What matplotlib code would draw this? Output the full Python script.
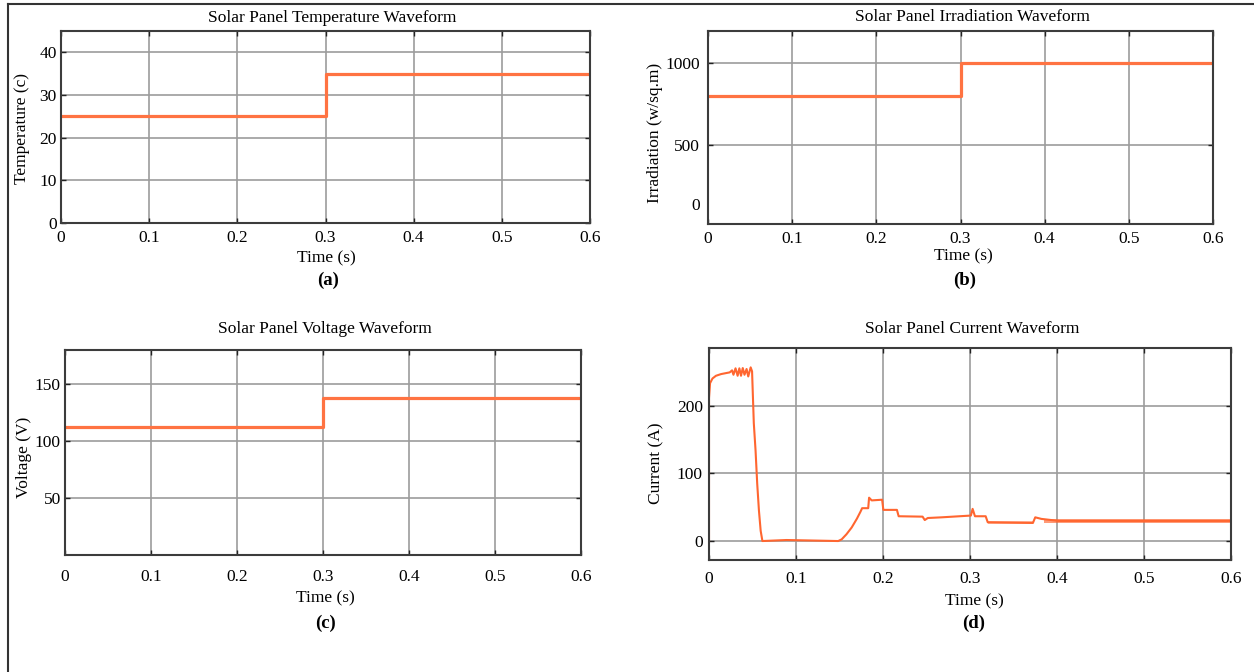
import matplotlib
matplotlib.use("Agg")
import matplotlib.pyplot as plt
from matplotlib.lines import Line2D

# ---------------- data ----------------
time_ticks = [0, 0.1, 0.2, 0.3, 0.4, 0.5, 0.6]
time_tick_labels = ["0", "0.1", "0.2", "0.3", "0.4", "0.5", "0.6"]

t_step = [0.0, 0.3, 0.6]
temperature = [25, 35, 35]
irradiation = [800, 1000, 1000]
voltage = [112, 138, 138]

temp_ticks = [0, 10, 20, 30, 40]
irr_ticks = [500, 1000]
irr_zero_label_pos = 140          # the "0" label sits here in the reference, with no grid line
volt_ticks = [50, 100, 150]
volt_tick_labels = ["50", "100", "150"]
curr_ticks = [0, 100, 200]

t_current = [0.0, 0.0, 0.0012, 0.004, 0.008, 0.0139, 0.0198, 0.0238, 0.0265, 0.0281,
             0.0305, 0.0329, 0.0349, 0.0368, 0.0388, 0.0408, 0.0432, 0.0451, 0.0479,
             0.0495, 0.0515, 0.0535, 0.0554, 0.0574, 0.0594, 0.0614, 0.089, 0.109,
             0.1485, 0.1525, 0.158, 0.164, 0.170, 0.174, 0.176, 0.183, 0.184, 0.187,
             0.199, 0.2004, 0.216, 0.218, 0.2455, 0.248, 0.2515, 0.2673, 0.301, 0.303,
             0.3057, 0.318, 0.3204, 0.3723, 0.375, 0.382, 0.402, 0.6]
current = [0, 211, 233, 240, 244, 246.5, 248, 249, 252, 245.5,
           255, 244, 255, 244, 255.4, 245.5, 254, 243, 256.4,
           250.5, 174, 134, 85, 45, 15, 0, 1.5, 1,
           0, 2.5, 10, 20, 33, 43, 48.5, 48.5, 64, 60,
           61, 46, 46, 36.6, 36, 31, 34, 35, 37.6, 47.5,
           36.6, 36.6, 27.7, 26.7, 35, 32.7, 29.7, 29.7]
# ripple envelopes (thick noisy bands)
ripple_t = [0.321, 0.372]
ripple_lo = [25.0, 25.0]
ripple_hi = [29.5, 29.5]
ripple2_t = [0.385, 0.6]
ripple2_lo = [27.0, 27.0]
ripple2_hi = [33.0, 33.0]

# ---------------- style ----------------
W, H = 1254, 672
plt.rcParams["font.family"] = ["Liberation Serif", "DejaVu Serif"]
STEP_COL = "#FF7342"
CURR_COL = "#FF6630"
GRID_COL = "#9c9c9c"
FRAME_COL = "#3c3c3c"
FS = 12.5

fig = plt.figure(figsize=(W / 100, H / 100), dpi=100)


def rect(l, r, t, b):
    return [l / W, 1 - b / H, (r - l) / W, (b - t) / H]


def ftext(x, y, s, **kw):
    fig.text(x / W, 1 - y / H, s, ha="center", va="center", **kw)


def style(ax, xpad, ypad):
    ax.set_xlim(0, 0.6)
    ax.set_xticks(time_ticks)
    ax.set_xticklabels(time_tick_labels)
    ax.grid(True, color=GRID_COL, linewidth=1.2)
    ax.set_axisbelow(True)
    for s in ax.spines.values():
        s.set_color(FRAME_COL)
        s.set_linewidth(1.5)
    ax.tick_params(direction="in", length=3.5, width=1.0, color="#222222",
                   top=True, right=True, labelsize=FS)
    ax.tick_params(axis="x", pad=xpad)
    ax.tick_params(axis="y", pad=ypad)


# (a) temperature
axa = fig.add_axes(rect(61, 590, 31, 223))
axa.plot(t_step, temperature, drawstyle="steps-post", color=STEP_COL, lw=2.3)
axa.set_ylim(0, 45)
axa.set_yticks(temp_ticks)
style(axa, 5, 3)
ftext(332, 18, "Solar Panel Temperature Waveform", fontsize=FS)
ftext(22, 128, "Temperature (c)", fontsize=FS, rotation=90)
ftext(326, 258, "Time (s)", fontsize=FS)
ftext(328, 280, "(a)", fontsize=FS + 1, fontweight="bold")

# (b) irradiation
axb = fig.add_axes(rect(708, 1213, 31, 224))
axb.plot(t_step, irradiation, drawstyle="steps-post", color=STEP_COL, lw=2.3)
axb.set_ylim(15, 1195)
axb.set_yticks([irr_zero_label_pos] + irr_ticks)
axb.set_yticklabels(["0"] + [str(v) for v in irr_ticks])
style(axb, 5, 6)
t0 = axb.yaxis.get_major_ticks()[0]
t0.gridline.set_visible(False)
t0.tick1line.set_visible(False)
t0.tick2line.set_visible(False)
ftext(972, 17, "Solar Panel Irradiation Waveform", fontsize=FS)
ftext(655, 133, "Irradiation (w/sq.m)", fontsize=FS, rotation=90)
ftext(963, 256, "Time (s)", fontsize=FS)
ftext(965, 280, "(b)", fontsize=FS + 1, fontweight="bold")

# (c) voltage
axc = fig.add_axes(rect(65, 581, 350, 555))
axc.plot(t_step, voltage, drawstyle="steps-post", color=STEP_COL, lw=2.3)
axc.set_ylim(0, 180)
axc.set_yticks(volt_ticks)
axc.set_yticklabels(volt_tick_labels)
style(axc, 10, 3)
ftext(325, 329, "Solar Panel Voltage Waveform", fontsize=FS)
ftext(24, 457, "Voltage (V)", fontsize=FS, rotation=90)
ftext(325, 598, "Time (s)", fontsize=FS)
ftext(326, 623, "(c)", fontsize=FS + 1, fontweight="bold")

# (d) current
axd = fig.add_axes(rect(709, 1231, 348, 560))
axd.fill_between(ripple_t, ripple_lo, ripple_hi, color=CURR_COL, alpha=0.45, lw=0)
axd.fill_between(ripple2_t, ripple2_lo, ripple2_hi, color=CURR_COL, alpha=0.65, lw=0)
axd.plot(t_current, current, color=CURR_COL, lw=1.5)
axd.set_ylim(-28, 285)
axd.set_yticks(curr_ticks)
style(axd, 8, 4.5)
ftext(972, 329, "Solar Panel Current Waveform", fontsize=FS)
ftext(656, 463, "Current (A)", fontsize=FS, rotation=90)
ftext(974, 601, "Time (s)", fontsize=FS)
ftext(974, 623, "(d)", fontsize=FS + 1, fontweight="bold")

# outer frame lines (top and left only, as in the reference)
fig.add_artist(Line2D([8 / W, 1], [1 - 4 / H, 1 - 4 / H], color="#333333", lw=1.5,
                      transform=fig.transFigure))
fig.add_artist(Line2D([8 / W, 8 / W], [0, 1 - 4 / H], color="#333333", lw=1.5,
                      transform=fig.transFigure))

fig.savefig("out.png", dpi=100, facecolor="white")
